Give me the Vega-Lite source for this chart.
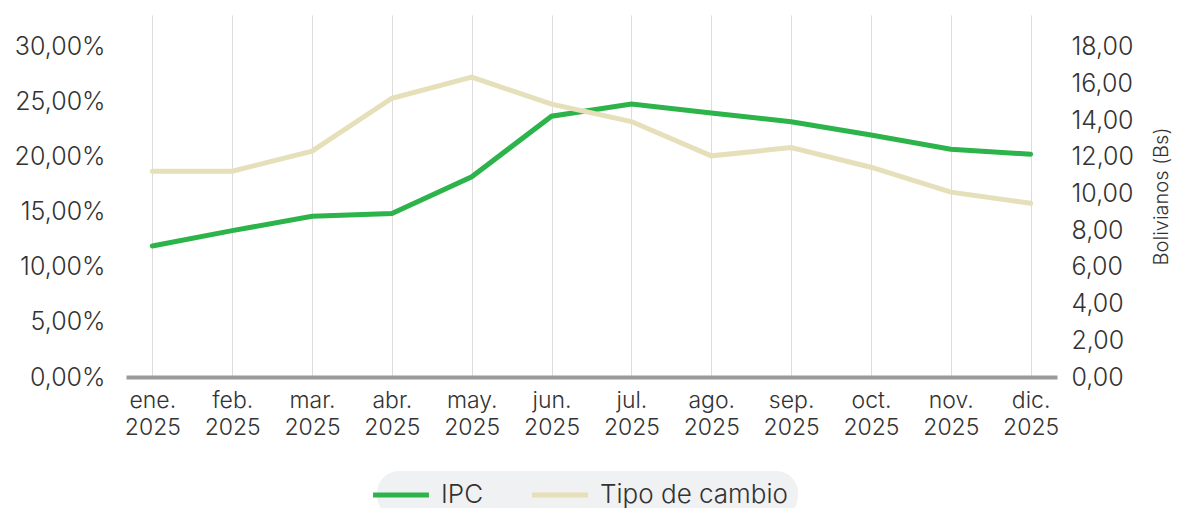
{
  "$schema": "https://vega.github.io/schema/vega-lite/v6.json",
  "width": 931,
  "height": 362,
  "autosize": {"type": "none"},
  "padding": {"left": 126, "top": 15, "right": 121, "bottom": 131},
  "background": "white",
  "config": {"font": "Inter", "view": {"stroke": null}},
  "data": {
    "values": [
      {"mes": "ene. 2025", "serie": "IPC", "valor": 11.9},
      {"mes": "feb. 2025", "serie": "IPC", "valor": 13.3},
      {"mes": "mar. 2025", "serie": "IPC", "valor": 14.6},
      {"mes": "abr. 2025", "serie": "IPC", "valor": 14.85},
      {"mes": "may. 2025", "serie": "IPC", "valor": 18.2},
      {"mes": "jun. 2025", "serie": "IPC", "valor": 23.7},
      {"mes": "jul. 2025", "serie": "IPC", "valor": 24.8},
      {"mes": "ago. 2025", "serie": "IPC", "valor": 24.0},
      {"mes": "sep. 2025", "serie": "IPC", "valor": 23.2},
      {"mes": "oct. 2025", "serie": "IPC", "valor": 22.0},
      {"mes": "nov. 2025", "serie": "IPC", "valor": 20.7},
      {"mes": "dic. 2025", "serie": "IPC", "valor": 20.25},
      {"mes": "ene. 2025", "serie": "Tipo de cambio", "valor": 11.22},
      {"mes": "feb. 2025", "serie": "Tipo de cambio", "valor": 11.22},
      {"mes": "mar. 2025", "serie": "Tipo de cambio", "valor": 12.32},
      {"mes": "abr. 2025", "serie": "Tipo de cambio", "valor": 15.2},
      {"mes": "may. 2025", "serie": "Tipo de cambio", "valor": 16.35},
      {"mes": "jun. 2025", "serie": "Tipo de cambio", "valor": 14.88},
      {"mes": "jul. 2025", "serie": "Tipo de cambio", "valor": 13.93},
      {"mes": "ago. 2025", "serie": "Tipo de cambio", "valor": 12.06},
      {"mes": "sep. 2025", "serie": "Tipo de cambio", "valor": 12.51},
      {"mes": "oct. 2025", "serie": "Tipo de cambio", "valor": 11.44},
      {"mes": "nov. 2025", "serie": "Tipo de cambio", "valor": 10.08},
      {"mes": "dic. 2025", "serie": "Tipo de cambio", "valor": 9.47}
    ]
  },
  "encoding": {
    "x": {
      "field": "mes",
      "type": "ordinal",
      "sort": null,
      "scale": {"type": "point", "padding": 0.33},
      "axis": {
        "title": null,
        "labelAngle": 0,
        "labelExpr": "split(datum.label, ' ')",
        "labelFontSize": 23,
        "labelFontWeight": 300,
        "labelLineHeight": 27,
        "labelColor": "#333333",
        "labelPadding": 12,
        "ticks": false,
        "domain": true,
        "domainColor": "#9a9a9a",
        "domainWidth": 4,
        "grid": true,
        "gridColor": "#dcdcdc",
        "gridWidth": 1
      }
    },
    "color": {
      "field": "serie",
      "type": "nominal",
      "scale": {"domain": ["IPC", "Tipo de cambio"], "range": ["#2cb34a", "#e5dfba"]},
      "legend": {
        "title": null,
        "orient": "none",
        "direction": "horizontal",
        "legendX": 251,
        "legendY": 456,
        "fillColor": "#f0f1f2",
        "cornerRadius": 22,
        "padding": 10,
        "symbolType": "M-2.5,0H2.5",
        "symbolSize": 500,
        "symbolStrokeWidth": 5,
        "labelFontSize": 26,
        "labelFontWeight": 300,
        "labelColor": "#333333",
        "labelLimit": 400,
        "labelOffset": 26,
        "columnPadding": 38
      }
    }
  },
  "layer": [
    {
      "transform": [{"filter": "datum.serie === 'IPC'"}],
      "mark": {"type": "line", "strokeWidth": 5, "strokeCap": "round"},
      "encoding": {
        "y": {
          "field": "valor",
          "type": "quantitative",
          "scale": {"domain": [0, 32.9], "nice": false},
          "axis": {
            "orient": "left",
            "title": null,
            "values": [0, 5, 10, 15, 20, 25, 30],
            "labelExpr": "replace(format(datum.value, '.2f'), '.', ',') + '%'",
            "labelFontSize": 25,
            "labelFontWeight": 300,
            "labelColor": "#333333",
            "labelPadding": 21,
            "domain": false,
            "ticks": false,
            "grid": false
          }
        }
      }
    },
    {
      "transform": [{"filter": "datum.serie === 'Tipo de cambio'"}],
      "mark": {"type": "line", "strokeWidth": 5, "strokeCap": "round"},
      "encoding": {
        "y": {
          "field": "valor",
          "type": "quantitative",
          "scale": {"domain": [0, 19.74], "nice": false},
          "axis": {
            "orient": "right",
            "title": "Bolivianos (Bs)",
            "titleFontSize": 20,
            "titleFontWeight": 300,
            "titleColor": "#333333",
            "titleAngle": 270,
            "titlePadding": 38,
            "values": [0, 2, 4, 6, 8, 10, 12, 14, 16, 18],
            "labelExpr": "replace(format(datum.value, '.2f'), '.', ',')",
            "labelFontSize": 25,
            "labelFontWeight": 300,
            "labelColor": "#333333",
            "labelPadding": 14,
            "domain": false,
            "ticks": false,
            "grid": false
          }
        }
      }
    }
  ],
  "resolve": {"scale": {"y": "independent"}}
}
